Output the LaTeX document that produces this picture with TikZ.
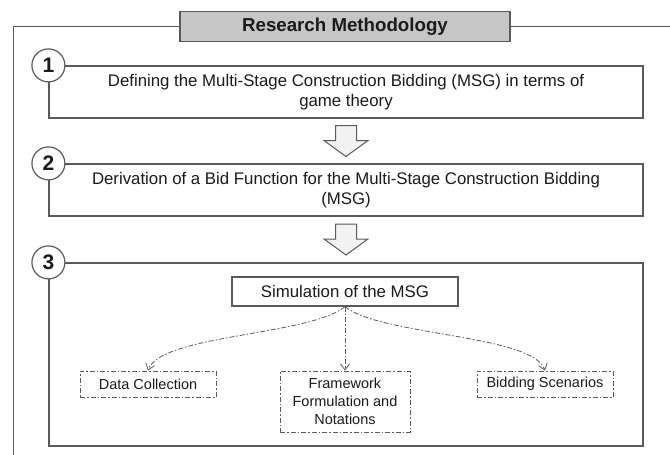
\documentclass[tikz,border=0pt]{standalone}
\usepackage{fontspec}
\setmainfont{Liberation Sans}
\usetikzlibrary{arrows.meta,calc}
\definecolor{ln}{HTML}{5A5A5A}
\definecolor{tx}{HTML}{1A1A1A}
\definecolor{ttl}{HTML}{C6C6C6}
\definecolor{arrfill}{HTML}{F2F2F2}
\begin{document}
\begin{tikzpicture}[x=1pt,y=-1pt,
  frameline/.style={draw=ln, line width=1.2pt},
  stage/.style={draw=ln, line width=1.2pt, minimum width=594pt, inner sep=0pt,
    font=\fontsize{16.8}{20.5}\selectfont, text=tx, align=center},
  num/.style={circle, draw=ln, line width=1.2pt, fill=white, minimum size=33pt,
    inner sep=0pt, font=\fontsize{21}{21}\selectfont\bfseries, text=tx},
  titlebox/.style={draw=ln, line width=1.2pt, fill=ttl, minimum width=330pt,
    minimum height=30pt, inner sep=0pt, font=\fontsize{18.7}{22}\selectfont\bfseries, text=tx},
  simbox/.style={draw=ln, line width=1.2pt, fill=white, minimum width=226pt,
    minimum height=29pt, inner sep=0pt, font=\fontsize{16.8}{20}\selectfont, text=tx},
  ddline/.style={draw=ln, line width=0.8pt, dash pattern=on 5pt off 2pt on 1.5pt off 2pt},
  subbox/.style={ddline, inner sep=0pt, align=center,
    font=\fontsize{14.5}{18}\selectfont, text=tx},
  conn/.style={ddline, -{Straight Barb[length=6pt,width=9pt]}},
  blockarr/.style={draw=ln, line width=1pt, fill=arrfill, line join=miter}
]
\useasboundingbox (0,0) rectangle (670,455);

% title and outer frame
\node[titlebox] (title) at (345,26.5) {Research Methodology};
\coordinate (ftl) at (13.5,26.5);
\coordinate (fbl) at (13.5,456);
\coordinate (ftr) at (671,26.5);
\draw[frameline] (title.west) -- (ftl) -- (fbl);
\draw[frameline] (title.east) -- (ftr);

% stage boxes
\node[stage, minimum height=52pt] (b1) at (346,92)
  {Defining the Multi-Stage Construction Bidding (MSG) in terms of\\game theory};
\node[stage, minimum height=52pt] (b2) at (346,190)
  {Derivation of a Bid Function for the Multi-Stage Construction Bidding\\(MSG)};
\node[stage, minimum height=183pt] (b3) at (346,354.5) {};

\node[num] (n1) at (b1.north west) {1};
\node[num] (n2) at (b2.north west) {2};
\node[num] (n3) at (b3.north west) {3};

% block arrows
\coordinate (a1) at ($(b1.south)!0.5!(b2.north)$);
\coordinate (a2) at ($(b2.south)!0.5!(b3.north)$);
\foreach \a in {a1,a2}{
  \draw[blockarr] (\a) ++(-10.5,-15.5) -- ++(21,0) -- ++(0,15) -- ++(11.5,0)
    -- ++(-22,16) -- ++(-22,-16) -- ++(11.5,0) -- cycle;
}

% stage 3 content
\node[simbox] (sim) at (345,291.5) {Simulation of the MSG};
\node[subbox, minimum width=136pt, minimum height=26pt] (dc) at (148,384) {Data Collection};
\node[subbox, minimum width=130pt, minimum height=61pt] (fw) at (345,401.5)
  {Framework\\Formulation and\\Notations};
\node[subbox, minimum width=136pt, minimum height=26pt] (bs) at (545,384) {Bidding Scenarios};

\draw[conn] (sim.south) .. controls +(-35,29) and +(12,-36) .. (dc.north);
\draw[conn] (sim.south) -- (fw.north);
\draw[conn] (sim.south) .. controls +(35,29) and +(-12,-36) .. (bs.north);
\end{tikzpicture}
\end{document}
